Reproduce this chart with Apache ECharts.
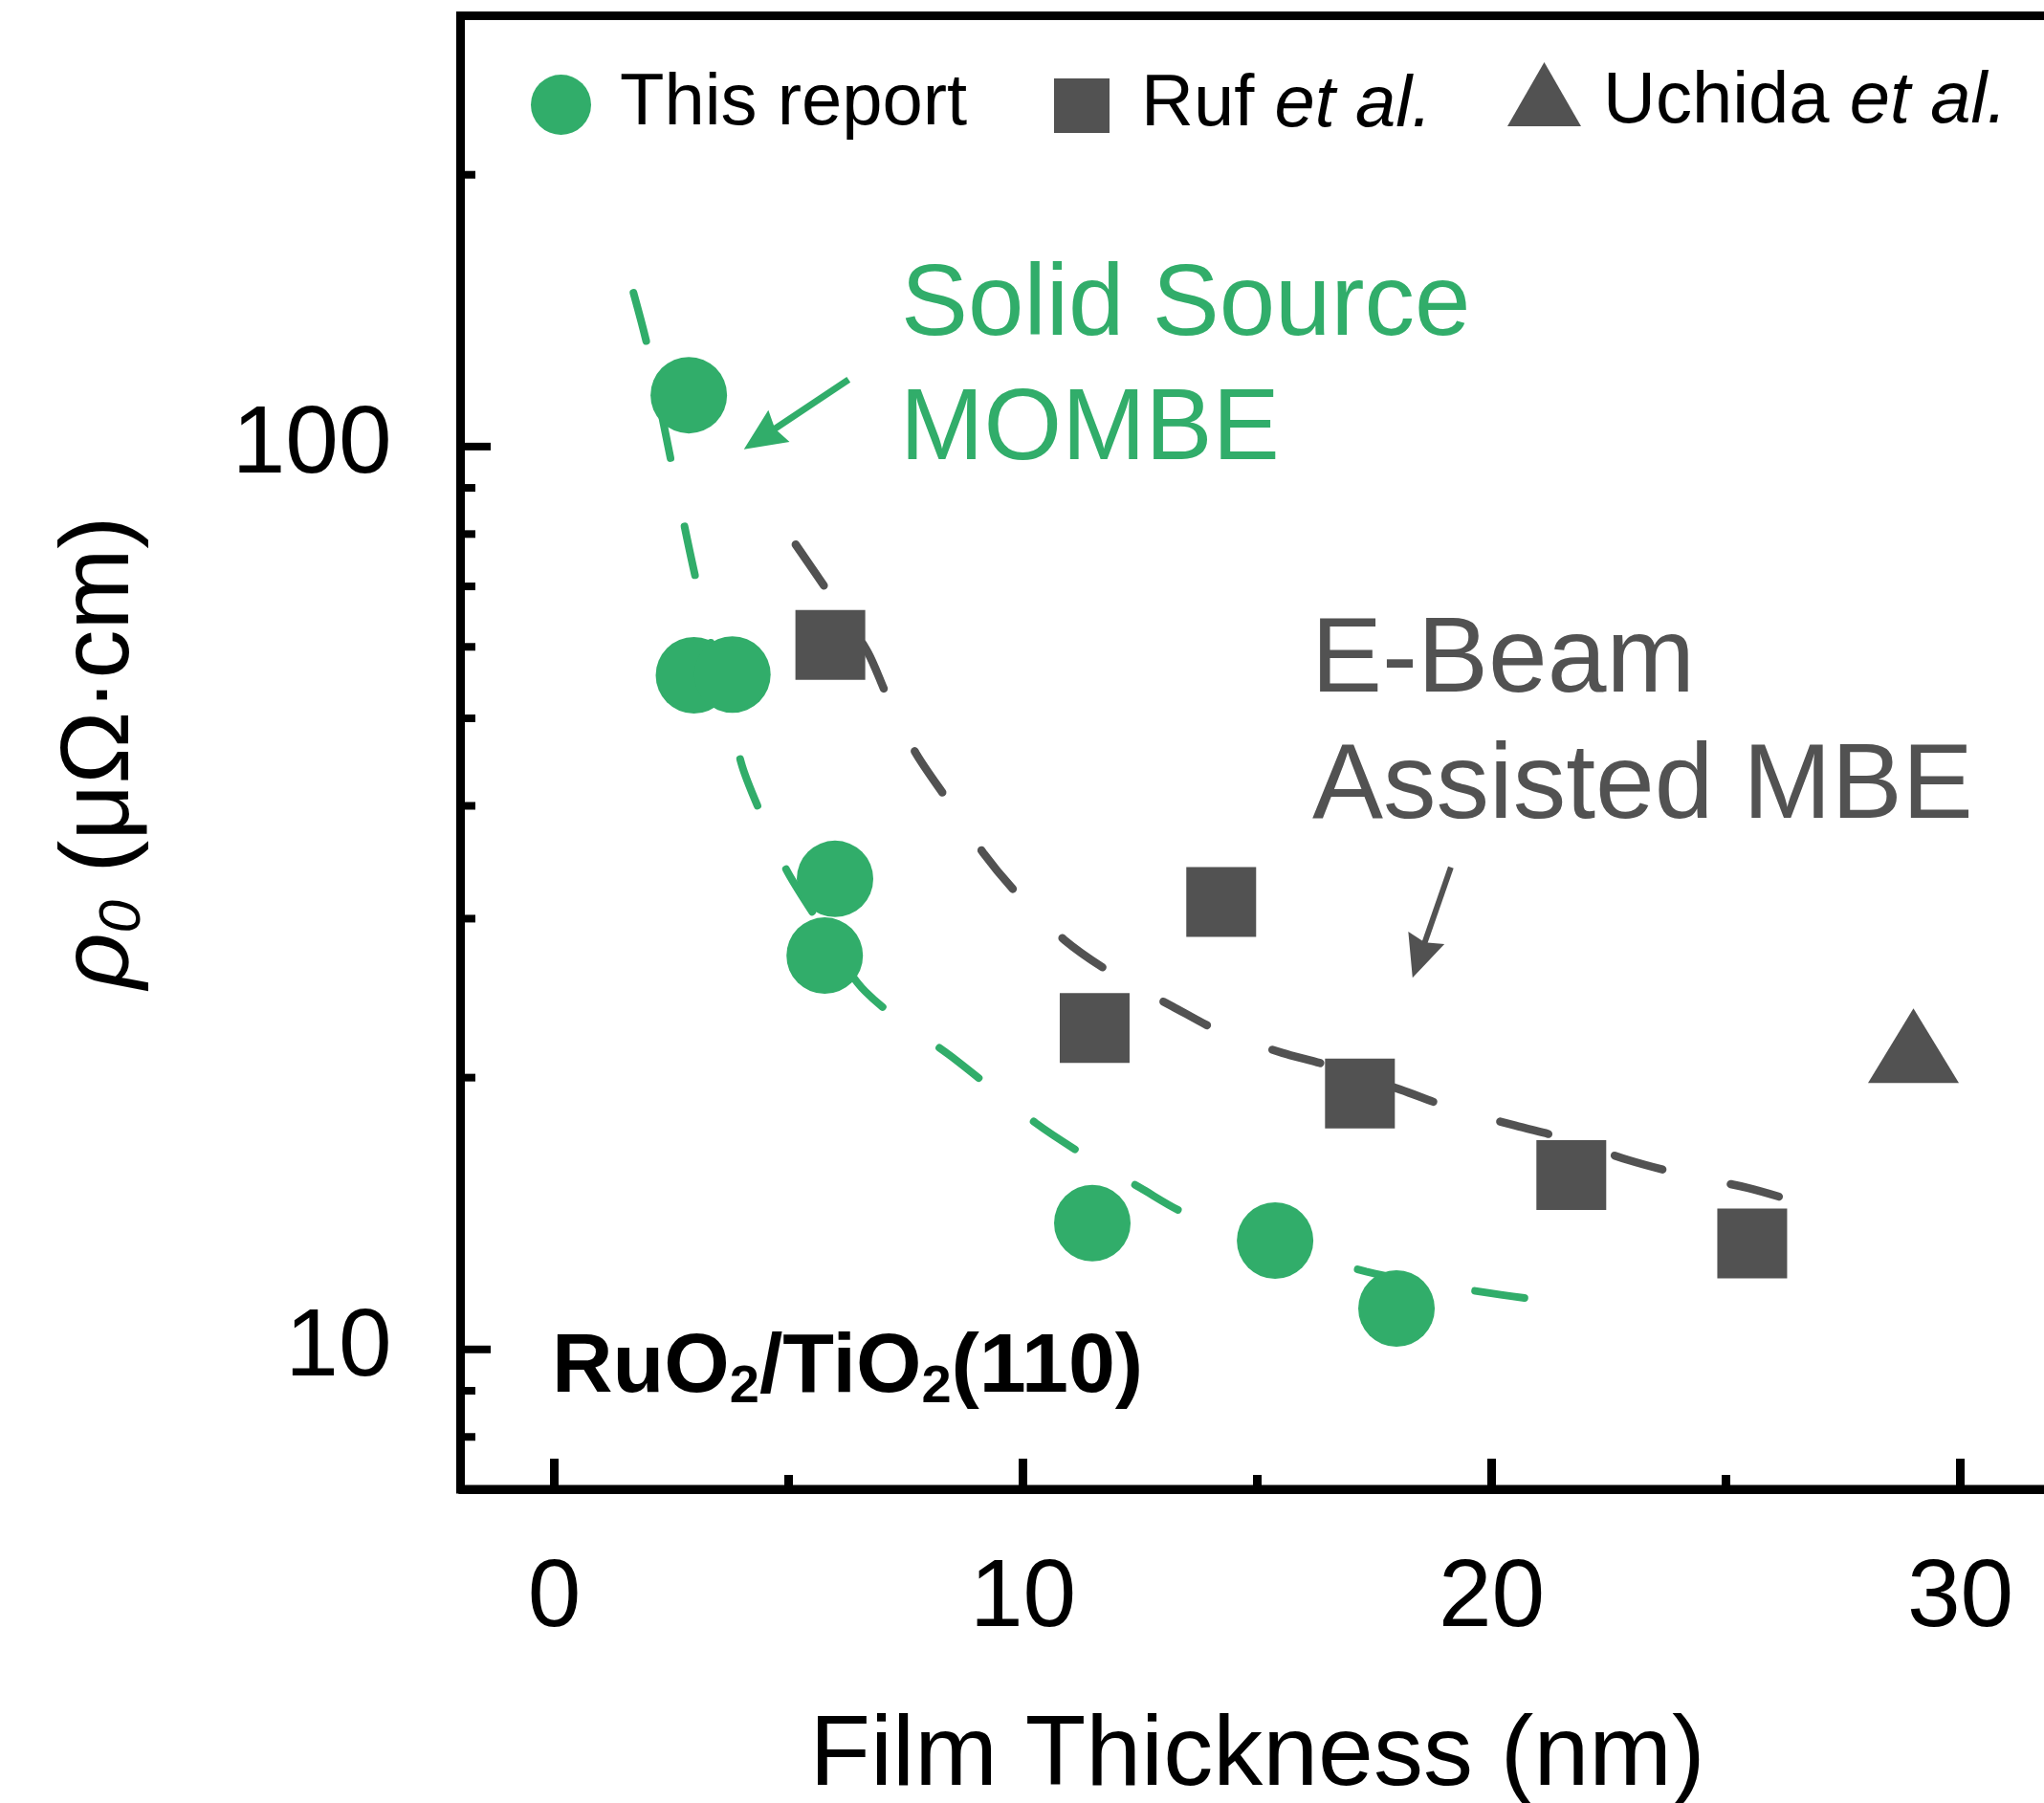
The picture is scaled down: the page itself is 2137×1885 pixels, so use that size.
<!DOCTYPE html>
<html>
<head>
<meta charset="utf-8">
<script src="https://cdn.jsdelivr.net/npm/echarts@6/dist/echarts.min.js"></script>
<style>
  html, body { margin: 0; padding: 0; background: #ffffff; }
  #chart { width: 2137px; height: 1885px; }
</style>
</head>
<body>
<div id="chart"></div>
<script>
// Residual resistivity of RuO2/TiO2(110) films vs. thickness (log scale)
const thisReport = [[2.87, 114], [2.98, 55.8], [3.80, 55.9], [5.99, 33.2], [5.77, 27.3],
                    [11.48, 13.8], [15.38, 13.2], [17.97, 11.1]];
const rufEtAl = [[5.89, 60.3], [14.23, 31.3], [11.53, 22.7], [17.19, 19.2], [21.70, 15.6], [25.56, 13.1]];
const uchidaEtAl = [[29.0, 21.7]];

// Guide-to-the-eye curves through each growth method
const mombeFit = [[1.69, 148], [1.99, 129], [2.5, 96], [3.03, 71], [3.99, 44.6], [4.4, 39.3],
                  [4.95, 34.0], [5.58, 30.1], [6.64, 24.9], [8.58, 20.9], [10.28, 17.8],
                  [11.32, 16.4], [12.5, 15.1], [13.54, 14.1], [17.32, 12.2], [20.72, 11.4]];
const ebeamFit = [[5.15, 77.9], [5.87, 68.7], [6.68, 59.3], [7.11, 52.8], [7.72, 45.7], [8.42, 40.4],
                  [9.15, 35.5], [9.87, 32.0], [10.89, 28.4], [11.95, 26.0], [13.18, 24.0],
                  [14.28, 22.4], [15.54, 21.3], [16.42, 20.7], [18.05, 19.4], [19.15, 18.5],
                  [20.5, 17.7], [21.6, 17.1], [22.93, 16.2], [24.13, 15.6], [25.46, 15.1], [26.64, 14.5]];

// Annotation arrows: [start, end] in data coordinates
const mombeArrow = [[6.28, 118.6], [4.42, 102.3]];
const ebeamArrow = [[19.13, 34.2], [18.46, 27.15]];

// Axis ranges and ticks
const xRange = [-2, 32];
const yRange = [7, 300];
const xTickLabels = [0, 10, 20, 30];
const xTicks = [0, 5, 10, 15, 20, 25, 30];
const yTicks = [8, 9, 10, 20, 30, 40, 50, 60, 70, 80, 90, 100, 200];

const GREEN = '#31ad6a';
const GREY = '#525252';
const FONT = '"Liberation Sans", Arial, Helvetica, sans-serif';
// solid arrowhead with a shallow notch, tip pointing along the line
const ARROW_HEAD = 'path://M20,0 L40,44 L20,39 L0,44 Z';

const chart = echarts.init(document.getElementById('chart'), null, { renderer: 'canvas' });

const isMajorY = v => Math.abs(Math.log10(v) - Math.round(Math.log10(v))) < 1e-9;

const legendText = name => name.replace(' et al.', ' {i|et al.}');
const legendStyle = (pad) => ({
  fontSize: 76, fontFamily: FONT, color: '#000', padding: pad,
  rich: { i: { fontSize: 76, fontFamily: FONT, fontStyle: 'italic', color: '#000' } }
});

chart.setOption({
  animation: false,
  backgroundColor: '#ffffff',
  grid: {
    left: 481.5, top: 16.5, right: -10.5, bottom: 328,
    show: true, borderColor: '#000', borderWidth: 9, backgroundColor: 'transparent',
    containLabel: false, outerBoundsMode: 'none'
  },
  legend: [
    { data: ['This report'], left: 555, top: 71.5, padding: 0, itemWidth: 63, itemHeight: 63,
      selectedMode: false, formatter: legendText, textStyle: legendStyle([0, 0, 0, 25]) },
    { data: ['Ruf et al.'], left: 1102, top: 72.5, padding: 0, itemWidth: 58, itemHeight: 57,
      selectedMode: false, formatter: legendText, textStyle: legendStyle([0, 0, 0, 28]) },
    { data: ['Uchida et al.'], left: 1576, top: 65, padding: 0, itemWidth: 77, itemHeight: 67,
      selectedMode: false, formatter: legendText, textStyle: legendStyle([17, 0, 0, 18]) }
  ],
  xAxis: {
    type: 'value', min: xRange[0], max: xRange[1],
    axisLine: { show: true, onZero: false, lineStyle: { color: '#000', width: 9 } },
    axisTick: { show: false },
    splitLine: { show: false },
    axisLabel: { customValues: xTickLabels, fontSize: 100, fontFamily: FONT, color: '#000', margin: 65 },
    name: 'Film Thickness (nm)', nameLocation: 'middle', nameGap: 228,
    nameTextStyle: { fontSize: 104, fontFamily: FONT, color: '#000' }
  },
  yAxis: {
    type: 'log', logBase: 10, min: yRange[0], max: yRange[1],
    axisLine: { show: true, onZero: false, lineStyle: { color: '#000', width: 9 } },
    axisTick: { show: false },
    minorTick: { show: false },
    splitLine: { show: false },
    axisLabel: { fontSize: 100, fontFamily: FONT, color: '#000', margin: 72,
                 showMinLabel: false, showMaxLabel: false },
    name: '{r|ρ}{s|0} (μΩ·cm)', nameLocation: 'middle', nameGap: 322,
    nameTextStyle: {
      fontSize: 102, fontFamily: FONT, color: '#000',
      rich: {
        r: { fontSize: 102, fontFamily: FONT, fontStyle: 'italic', color: '#000' },
        s: { fontSize: 62, fontFamily: FONT, fontStyle: 'italic', color: '#000', padding: [46, 0, 0, 0] }
      }
    }
  },
  graphic: [
    { type: 'text', x: 942, y: 321, z: 10,
      style: { text: 'Solid Source', fill: GREEN, fontSize: 105, fontFamily: FONT, verticalAlign: 'middle' } },
    { type: 'text', x: 941, y: 451, z: 10,
      style: { text: 'MOMBE', fill: GREEN, fontSize: 105, fontFamily: FONT, verticalAlign: 'middle' } },
    { type: 'text', x: 1371, y: 692, z: 10,
      style: { text: 'E-Beam', fill: GREY, fontSize: 111, fontFamily: FONT, verticalAlign: 'middle' } },
    { type: 'text', x: 1372, y: 824, z: 10,
      style: { text: 'Assisted MBE', fill: GREY, fontSize: 111, fontFamily: FONT, verticalAlign: 'middle' } },
    { type: 'text', x: 577, y: 1431, z: 10,
      style: {
        text: '{b|RuO}{s|2}{b|/TiO}{s|2}{b|(110)}', verticalAlign: 'middle',
        rich: {
          b: { fontSize: 88, fontWeight: 'bold', fontFamily: FONT, fill: '#000' },
          s: { fontSize: 56, fontWeight: 'bold', fontFamily: FONT, fill: '#000', padding: [40, 0, 0, 0] }
        }
      } }
  ],
  series: [
    {
      name: 'MOMBE fit', type: 'line', data: mombeFit, smooth: 0.3, symbol: 'none', silent: true, z: 2,
      lineStyle: { color: GREEN, width: 8, type: [52, 73], cap: 'round' },
      markLine: {
        silent: true, animation: false, label: { show: false },
        lineStyle: { color: GREEN, width: 7, type: 'solid' },
        data: [[{ coord: mombeArrow[0], symbol: 'none' },
                { coord: mombeArrow[1], symbol: ARROW_HEAD, symbolSize: [40, 44] }]]
      }
    },
    {
      name: 'E-beam fit', type: 'line', data: ebeamFit, smooth: 0.3, symbol: 'none', silent: true, z: 2,
      lineStyle: { color: GREY, width: 8.5, type: [52, 73], cap: 'round' },
      markLine: {
        silent: true, animation: false, label: { show: false },
        lineStyle: { color: GREY, width: 6, type: 'solid' },
        data: [[{ coord: ebeamArrow[0], symbol: 'none' },
                { coord: ebeamArrow[1], symbol: ARROW_HEAD, symbolSize: [40, 44] }]]
      }
    },
    {
      name: 'This report', type: 'scatter', data: thisReport, symbol: 'circle', symbolSize: 80, z: 3,
      itemStyle: { color: GREEN, opacity: 1 }
    },
    {
      name: 'Ruf et al.', type: 'scatter', data: rufEtAl, symbol: 'rect', symbolSize: 73, z: 3,
      itemStyle: { color: GREY, opacity: 1 }
    },
    {
      name: 'Uchida et al.', type: 'scatter', data: uchidaEtAl, symbol: 'triangle', symbolSize: [95, 78], z: 3,
      itemStyle: { color: GREY, opacity: 1 }
    },
    {
      // inward tick marks on the log axis (decades long, sub-decades short)
      name: 'y ticks', type: 'custom', silent: true, z: 4, clip: false,
      data: yTicks.map(v => [xRange[0], v]),
      encode: { x: 0, y: 1 },
      renderItem: (params, api) => {
        const v = api.value(1);
        const p = api.coord([api.value(0), v]);
        const len = isMajorY(v) ? 31.5 : 15.5;
        return { type: 'line', shape: { x1: p[0], y1: p[1], x2: p[0] + len, y2: p[1] },
                 style: { stroke: '#000', lineWidth: 8 } };
      }
    },
    {
      // inward tick marks on the thickness axis
      name: 'x ticks', type: 'custom', silent: true, z: 4, clip: false,
      data: xTicks.map(v => [v, yRange[0]]),
      encode: { x: 0, y: 1 },
      renderItem: (params, api) => {
        const v = api.value(0);
        const p = api.coord([v, api.value(1)]);
        const len = v % 10 === 0 ? 32 : 15;
        return { type: 'line', shape: { x1: p[0], y1: p[1], x2: p[0], y2: p[1] - len },
                 style: { stroke: '#000', lineWidth: 9 } };
      }
    }
  ]
});
</script>
</body>
</html>
